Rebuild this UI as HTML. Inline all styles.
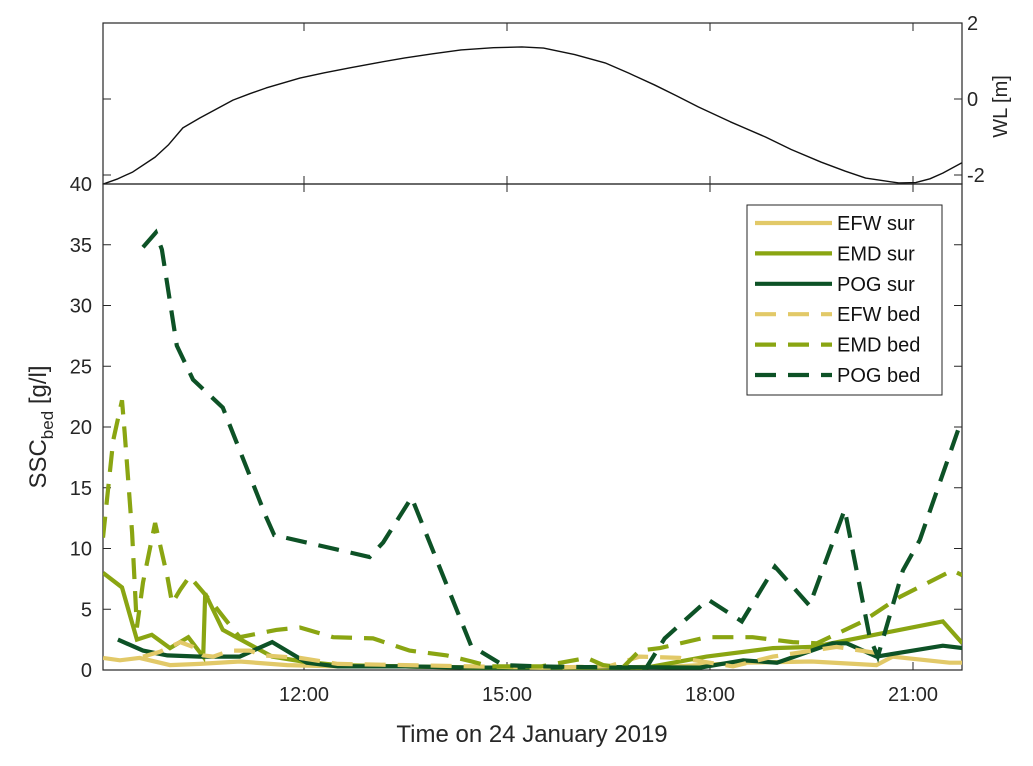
<!DOCTYPE html>
<html><head><meta charset="utf-8">
<style>
body{margin:0;background:#fff;}
svg{display:block;font-family:"Liberation Sans",Arial,sans-serif;}
</style></head>
<body>
<svg id="chart" width="1033" height="766" viewBox="0 0 1033 766" xmlns="http://www.w3.org/2000/svg">
</svg>
<script>
// ---- data ----
const wlTime=[9.03,9.25,9.47,9.80,10.0,10.21,10.46,10.70,10.95,11.2,11.44,11.94,12.3,12.68,13.1,13.49,13.9,14.32,14.8,15.22,15.54,16.0,16.45,16.8,17.18,17.5,17.83,18.3,18.82,19.2,19.64,20.0,20.30,20.79,21.04,21.25,21.44,21.72];
const wlLevel=[-2.24,-2.1,-1.92,-1.53,-1.2,-0.76,-0.5,-0.27,-0.03,0.14,0.29,0.55,0.69,0.82,0.96,1.08,1.19,1.29,1.35,1.37,1.34,1.17,0.95,0.68,0.37,0.09,-0.21,-0.6,-1.0,-1.33,-1.66,-1.9,-2.08,-2.21,-2.2,-2.1,-1.95,-1.68];

const efwSurT=[9.03,9.28,9.57,10.02,10.46,11.05,11.75,12.5,13.5,14.5,15.5,16.5,17.5,18.5,19.5,20.46,20.70,21.54,21.73];
const efwSurV=[1.0,0.8,1.0,0.4,0.5,0.7,0.4,0.3,0.3,0.2,0.2,0.2,0.3,0.6,0.7,0.4,1.1,0.6,0.6];
const emdSurT=[9.03,9.31,9.53,9.75,10.02,10.29,10.51,10.54,10.80,11.53,11.98,12.5,13.5,14.5,15.5,16.5,17.06,17.95,18.93,19.52,21.44,21.73];
const emdSurV=[8.0,6.8,2.5,2.9,1.8,2.7,1.1,6.3,3.3,1.1,0.7,0.4,0.3,0.2,0.2,0.2,0.2,1.1,1.8,1.9,4.0,2.2];
const pogSurT=[9.25,9.62,9.98,10.46,11.05,11.53,12.04,12.5,13.5,14.5,15.5,16.37,17.85,18.49,18.99,19.81,20.02,20.46,21.44,21.73];
const pogSurV=[2.5,1.6,1.2,1.1,1.1,2.3,0.6,0.3,0.3,0.2,0.2,0.25,0.2,0.8,0.6,2.2,2.2,1.1,2.0,1.8];
const efwBedT=[9.62,9.87,10.17,10.36,10.51,10.66,10.91,11.20,11.39,11.94,12.5,13.5,14.5,15.5,16.5,16.96,17.55,18.34,18.93,19.87,20.46,20.61];
const efwBedV=[1.1,1.5,2.3,1.9,1.2,1.1,1.6,1.6,1.2,1.0,0.5,0.4,0.3,0.2,0.3,1.1,1.0,0.3,1.1,1.9,1.4,1.6];
const emdBedT=[9.03,9.18,9.31,9.35,9.46,9.53,9.62,9.80,9.98,10.05,10.17,10.31,10.51,10.69,10.86,11.05,11.59,11.94,12.43,13.02,13.56,14.11,14.48,14.75,15.5,16.18,16.42,16.71,16.96,17.26,17.95,18.63,19.22,19.58,20.26,20.80,21.58,21.73];
const emdBedV=[10.9,18.9,22.2,19.5,11.3,3.5,7.2,12.1,7.7,5.5,6.6,7.7,6.4,5.2,4.0,2.7,3.3,3.5,2.7,2.6,1.6,1.2,0.7,0.3,0.3,1.0,0.4,0.2,1.6,1.8,2.7,2.7,2.3,2.2,4.0,6.0,8.2,7.8];
const pogBedT=[9.62,9.81,9.90,10.12,10.36,10.80,11.44,11.56,12.97,13.17,13.59,14.47,14.94,15.5,16.5,17.06,17.33,17.97,18.47,18.96,19.47,19.99,20.36,20.48,20.85,21.10,21.72];
const pogBedV=[34.8,36.0,34.6,26.7,23.9,21.6,12.6,11.1,9.3,10.5,14.2,2.0,0.4,0.3,0.2,0.2,2.6,5.8,4.0,8.5,5.3,13.2,2.7,1.1,8.2,10.7,20.6];

const xTickHours=[12,15,18,21];
const xTickLabels=["12:00","15:00","18:00","21:00"];
const yTicks=[0,5,10,15,20,25,30,35,40];
const wlTicks=[-2,0,2];
const legendLabels=["EFW sur","EMD sur","POG sur","EFW bed","EMD bed","POG bed"];

// ---- axes ----
const L=103,R=962,T1=23,B1=184,T2=184,B2=670;
const pxPerHour=203/3;
function X(t){return 304+(t-12)*pxPerHour;}
function Y(v){return B2-v*(B2-T2)/40;}
function YW(v){return 99-v*38;}

const NS="http://www.w3.org/2000/svg";
const svg=document.getElementById('chart');
function mk(tag,attrs,parent){const e=document.createElementNS(NS,tag);for(const k in attrs)e.setAttribute(k,attrs[k]);(parent||svg).appendChild(e);return e;}

const defs=mk('defs',{});
const cp=mk('clipPath',{id:'clipB'},defs);
mk('rect',{x:L,y:T2,width:R-L,height:B2-T2},cp);
const cp2=mk('clipPath',{id:'clipT'},defs);
mk('rect',{x:L,y:T1,width:R-L,height:B1-T1},cp2);

// top panel
const topBox=mk('rect',{x:L,y:T1,width:R-L,height:B1-T1,fill:'none',stroke:'#262626','stroke-width':1.2});


xTickHours.forEach(h=>{
  const x=X(h);
  const t1=mk('line',{x1:x,y1:T1,x2:x,y2:T1+8,stroke:'#262626'});
  
  
  const t2=mk('line',{x1:x,y1:B1,x2:x,y2:B1-8,stroke:'#262626'});
  
  
});
wlTicks.forEach(v=>{
  const y=YW(v);
  const a=mk('line',{x1:L,y1:y,x2:L+8,y2:y,stroke:'#262626'});
  
  
  const b=mk('line',{x1:R,y1:y,x2:R-8,y2:y,stroke:'#262626'});
  
  
  const tx=mk('text',{x:R+5,y:y+7,'font-size':20,fill:'#262626'});
  tx.textContent=String(v);
  
  
});
const wlT=mk('text',{x:0,y:0,'font-size':20,fill:'#262626','text-anchor':'middle',transform:`translate(1007,${(T1+B1)/2+3}) rotate(-90)`});
wlT.textContent='WL [m]';


const wlPath=mk('polyline',{points:wlTime.map((t,i)=>X(t)+','+YW(wlLevel[i])).join(' '),fill:'none',stroke:'#111','stroke-width':1.4,'stroke-linejoin':'round','clip-path':'url(#clipT)'});



// bottom panel
const botBox=mk('rect',{x:L,y:T2,width:R-L,height:B2-T2,fill:'none',stroke:'#262626','stroke-width':1.2});


yTicks.forEach(v=>{
  const y=Y(v);
  const a=mk('line',{x1:L,y1:y,x2:L+8,y2:y,stroke:'#262626'});
  
  
  const b=mk('line',{x1:R,y1:y,x2:R-8,y2:y,stroke:'#262626'});
  
  
  const tx=mk('text',{x:92,y:y+7,'font-size':20,fill:'#262626','text-anchor':'end'});
  tx.textContent=String(v);
  
  
});
xTickHours.forEach((h,i)=>{
  const x=X(h);
  const a=mk('line',{x1:x,y1:B2,x2:x,y2:B2-8,stroke:'#262626'});
  
  
  const b=mk('line',{x1:x,y1:T2,x2:x,y2:T2+8,stroke:'#262626'});
  
  
  const tx=mk('text',{x:x,y:701,'font-size':20,fill:'#262626','text-anchor':'middle'});
  tx.textContent=xTickLabels[i];
  
  
});
const xt=mk('text',{x:532,y:742,'font-size':24,fill:'#262626','text-anchor':'middle'});
xt.textContent='Time on 24 January 2019';


const yt=mk('text',{x:0,y:0,'font-size':24,fill:'#262626','text-anchor':'middle',transform:'translate(46,427) rotate(-90)'});
yt.innerHTML='SSC<tspan font-size="17" dy="7">bed</tspan><tspan dy="-7"> [g/l]</tspan>';



const cEFW='#e2c968',cEMD='#8aa512',cPOG='#0d5226';
const series=[
 [efwSurT,efwSurV,cEFW,false,'efw-sur-line'],
 [emdSurT,emdSurV,cEMD,false,'emd-sur-line'],
 [pogSurT,pogSurV,cPOG,false,'pog-sur-line'],
 [efwBedT,efwBedV,cEFW,true,'efw-bed-line'],
 [emdBedT,emdBedV,cEMD,true,'emd-bed-line'],
 [pogBedT,pogBedV,cPOG,true,'pog-bed-line']
];
series.forEach(s=>{
  const attrs={points:s[0].map((t,i)=>X(t).toFixed(1)+','+Y(s[1][i]).toFixed(1)).join(' '),fill:'none',stroke:s[2],'stroke-width':4.2,'stroke-linejoin':'miter','clip-path':'url(#clipB)'};
  if(s[3]) attrs['stroke-dasharray']='21 12';
  const p=mk('polyline',attrs);
  
  
});

// legend
const lg=mk('g',{});


mk('rect',{x:747,y:205,width:195,height:190,fill:'#fff',stroke:'#262626','stroke-width':1},lg);
legendLabels.forEach((lab,i)=>{
  const y=223+i*30.4;
  const s=series[i];
  const la={x1:755,y1:y,x2:832,y2:y,stroke:s[2],'stroke-width':4.2};
  if(s[3]) la['stroke-dasharray']='21 12';
  const ln=mk('line',la,lg);
  
  
  const tx=mk('text',{x:837,y:y+7,'font-size':20,fill:'#111'},lg);
  tx.textContent=lab;
  
  
});
</script>
</body></html>
